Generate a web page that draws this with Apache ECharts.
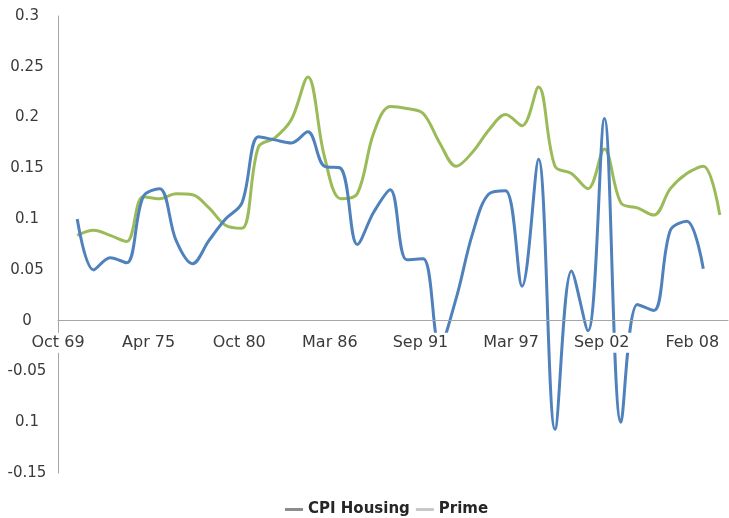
<!DOCTYPE html>
<html>
<head>
<meta charset="utf-8">
<script src="https://cdn.jsdelivr.net/npm/echarts@6/dist/echarts.min.js"></script>
<style>
html,body{margin:0;padding:0;background:#fff;}
#chart{width:729px;height:518px;}
</style>
</head>
<body>
<div id="chart"></div>
<script>
// Years of the annual observations (December of each year)
var cpiYears = [1970,1971,1972,1973,1974,1975,1976,1977,1978,1979,1980,1981,1982,1983,1984,1985,1986,1987,1988,1989,1990,1991,1992,1993,1994,1995,1996,1997,1998,1999,2000,2001,2002,2003,2004,2005,2006,2007,2008];
var cpiHousing = [0.100,0.050,0.062,0.057,0.122,0.130,0.079,0.056,0.079,0.100,0.116,0.181,0.178,0.175,0.186,0.152,0.150,0.075,0.107,0.129,0.060,0.061,-0.025,0.022,0.086,0.125,0.128,0.034,0.159,-0.107,0.049,-0.010,0.199,-0.100,0.016,0.010,0.089,0.098,0.051];
var primeYears = [1970,1971,1972,1973,1974,1975,1976,1977,1978,1979,1980,1981,1982,1983,1984,1985,1986,1987,1988,1989,1990,1991,1992,1993,1994,1995,1996,1997,1998,1999,2000,2001,2002,2003,2004,2005,2006,2007,2008,2009];
var prime = [0.084,0.089,0.084,0.078,0.122,0.120,0.125,0.124,0.111,0.094,0.091,0.171,0.180,0.198,0.240,0.162,0.120,0.125,0.185,0.211,0.209,0.204,0.175,0.152,0.166,0.188,0.203,0.192,0.230,0.152,0.145,0.130,0.169,0.116,0.111,0.104,0.130,0.145,0.152,0.104];
var xTickLabels = ['Oct 69','Apr 75','Oct 80','Mar 86','Sep 91','Mar 97','Sep 02','Feb 08'];
var yTickLabels = ['-0.15','0.1','-0.05','0','0.05','0.1','0.15','0.2','0.25','0.3'];
var seriesNames = ['CPI Housing','Prime'];

// x is measured in months since October 1969; observations are for December
function toMonths(y){ return (y - 1969) * 12 + 2; }
function pairs(years, vals){ return years.map(function(y,i){ return [toMonths(y), vals[i]]; }); }

var font = 'DejaVu Sans';
var gridTop = 16, gridBottom = 45, H = 518;
var yMin = -0.15, yMax = 0.3;
var plotH = H - gridTop - gridBottom;
var zeroOffset = -plotH * (0 - yMin) / (yMax - yMin); // lift x axis to the zero line

var chart = echarts.init(document.getElementById('chart'), null, {renderer:'canvas'});
chart.setOption({
  animation:false,
  backgroundColor:'#fff',
  grid:{left:58, right:1, top:gridTop, bottom:gridBottom, containLabel:false},
  legend:{
    left:280, top:497,
    itemWidth:18, itemHeight:3, itemGap:6,
    icon:'rect',
    textStyle:{fontFamily:font, fontSize:15, fontWeight:'bold', color:'#262626'},
    data:[
      {name:seriesNames[0], itemStyle:{color:'#8c8c8c'}},
      {name:seriesNames[1], itemStyle:{color:'#c8c8c8'}}
    ]
  },
  xAxis:{
    type:'value', min:0, max:488, interval:66, z:5,
    position:'bottom', offset:zeroOffset,
    axisLine:{show:true, onZero:false, lineStyle:{color:'#a6a6a6', width:1}},
    axisTick:{show:false},
    splitLine:{show:false},
    axisLabel:{
      margin:12, showMaxLabel:false,
      fontFamily:font, fontSize:16, color:'#3a3a3a',
      backgroundColor:'#fff', padding:[2,3,2,3],
      formatter:function(v){ var i = Math.round(v/66); return (Math.abs(v - i*66) < 0.01 && i < xTickLabels.length) ? xTickLabels[i] : ''; }
    }
  },
  yAxis:{
    type:'value', min:yMin, max:yMax, interval:0.05,
    axisLine:{show:true, lineStyle:{color:'#a6a6a6', width:1}},
    axisTick:{show:false},
    splitLine:{show:false},
    axisLabel:{
      margin:31, align:'center',
      fontFamily:font, fontSize:15, color:'#3a3a3a',
      formatter:function(v){ var i = Math.round((v - yMin)/0.05); return yTickLabels[i] || ''; }
    }
  },
  series:[
    {name:seriesNames[0], type:'line', data:pairs(cpiYears, cpiHousing), smooth:0.35, showSymbol:false, symbol:'none',
     lineStyle:{color:'#4f81bd', width:3}, itemStyle:{color:'#4f81bd'}, z:2},
    {name:seriesNames[1], type:'line', data:pairs(primeYears, prime), smooth:0.35, showSymbol:false, symbol:'none',
     lineStyle:{color:'#9bbb59', width:3}, itemStyle:{color:'#9bbb59'}, z:1}
  ]
});
</script>
</body>
</html>
